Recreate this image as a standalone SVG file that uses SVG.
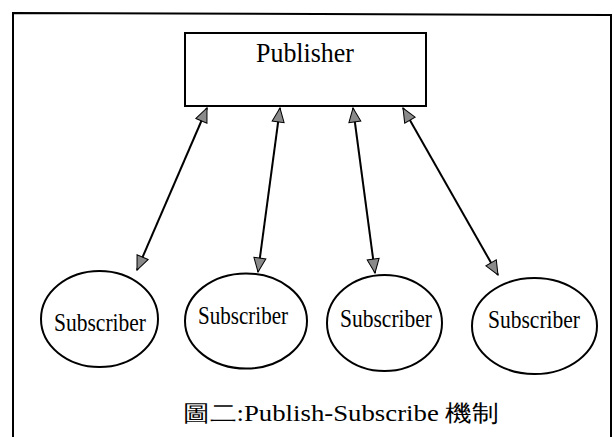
<svg xmlns="http://www.w3.org/2000/svg" width="614" height="437" viewBox="0 0 614 437">
<defs>
<marker id="ah" viewBox="0 0 16 14" refX="15" refY="7" markerWidth="16" markerHeight="14" markerUnits="userSpaceOnUse" orient="auto-start-reverse">
<path d="M1,1 L15,7 L1,13 z" fill="#8a8a8a" stroke="#000" stroke-width="1"/>
</marker>
<style>
.shape{fill:#fff;stroke:#000;stroke-width:2}
.lbl{font-family:"Liberation Serif","Times New Roman",serif;fill:#000;text-anchor:middle}
.sub{font-size:25px}
.conn{stroke:#000;stroke-width:2;fill:none;marker-start:url(#ah);marker-end:url(#ah)}
</style>
</defs>
<rect width="614" height="437" fill="#fff"/>
<path d="M13,440 L13,13 L611,15 L611,440" fill="none" stroke="#000" stroke-width="2"/>
<g id="publisher">
<rect class="shape" x="185" y="33" width="241" height="73"/>
<text class="lbl" x="305" y="62" font-size="27" textLength="98" lengthAdjust="spacingAndGlyphs">Publisher</text>
</g>
<g id="sub1">
<ellipse class="shape" cx="99.5" cy="319" rx="58.5" ry="48"/>
<text class="lbl sub" x="100" y="331" textLength="92" lengthAdjust="spacingAndGlyphs">Subscriber</text>
</g>
<g id="sub2">
<ellipse class="shape" cx="246" cy="321" rx="61" ry="47.5"/>
<text class="lbl sub" x="243" y="324" textLength="90" lengthAdjust="spacingAndGlyphs">Subscriber</text>
</g>
<g id="sub3">
<ellipse class="shape" cx="384.5" cy="323" rx="57.5" ry="48"/>
<text class="lbl sub" x="386" y="327" textLength="92" lengthAdjust="spacingAndGlyphs">Subscriber</text>
</g>
<g id="sub4">
<ellipse class="shape" cx="534.5" cy="326" rx="62.5" ry="48"/>
<text class="lbl sub" x="534" y="328" textLength="92" lengthAdjust="spacingAndGlyphs">Subscriber</text>
</g>
<g id="connectors">
<line class="conn" x1="207" y1="108" x2="137" y2="270"/>
<line class="conn" x1="280" y1="108" x2="258" y2="272"/>
<line class="conn" x1="353" y1="108" x2="375" y2="273"/>
<line class="conn" x1="403" y1="108" x2="498" y2="275"/>
</g>
<text class="lbl" x="341" y="421" font-size="23" textLength="316" lengthAdjust="spacingAndGlyphs" font-family="'Liberation Serif','Noto Sans CJK TC',serif">圖二:Publish-Subscribe 機制</text>
</svg>
